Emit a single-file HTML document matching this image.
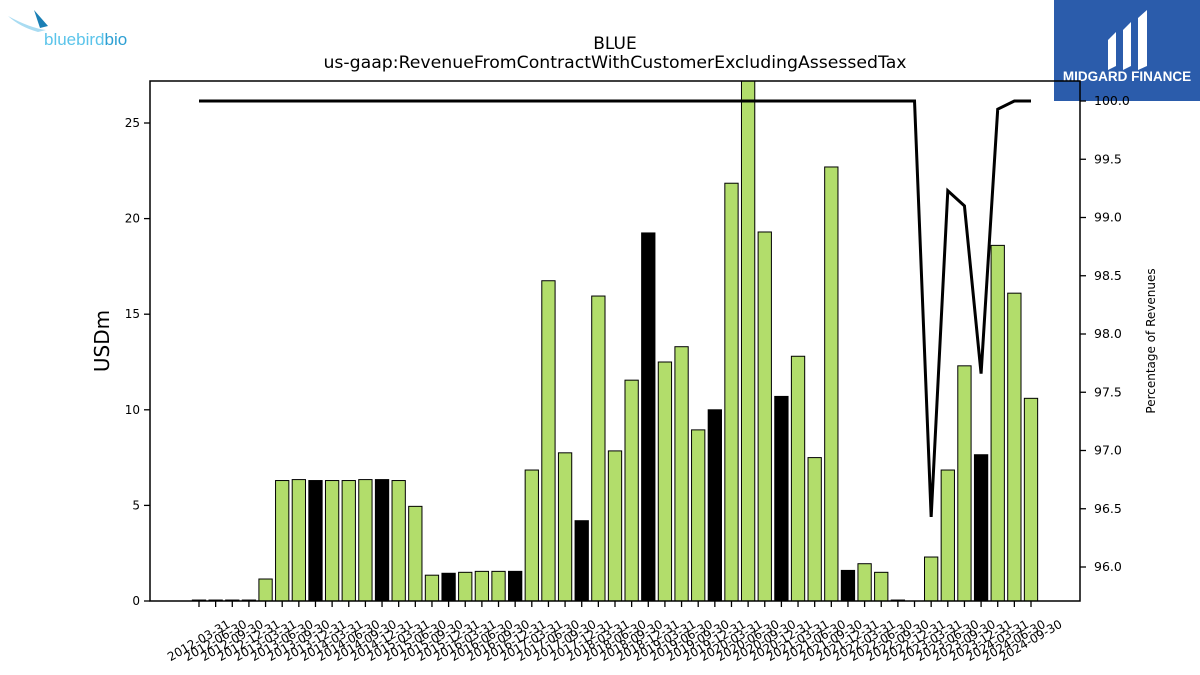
<!DOCTYPE html>
<html><head><meta charset="utf-8"><style>
body{margin:0;background:#fff;}
svg{display:block;font-family:"DejaVu Sans","Liberation Sans",sans-serif;}
</style></head><body>
<svg id="chart" width="1200" height="675" viewBox="0 0 1200 675">
  <g>
    <path d="M8,16 Q30,28 46,30 L38,32 Q20,27 8,16Z" fill="#a9dcf2"/>
    <path d="M34,10 L48,26 L40,28 Z" fill="#1a7fb5"/>
    <text x="44" y="45" font-size="17" fill="#5bc4ea" font-family="Liberation Sans, sans-serif">bluebird<tspan fill="#2c9fd3">bio</tspan></text>
  </g>
  <g>
    <rect x="1054" y="0" width="146" height="101" fill="#2b5cab"/>
    <path d="M1108,40 L1116,32 L1116,66 L1108,70Z M1123,30 L1131,22 L1131,66 L1123,70Z M1138,18 L1147,10 L1147,66 L1138,70Z" fill="#fff"/>
    <text x="1127" y="81" font-size="13.5" font-weight="bold" fill="#fff" text-anchor="middle" font-family="Liberation Sans, sans-serif">MIDGARD FINANCE</text>
  </g>
  <text x="615" y="49" font-size="17" text-anchor="middle">BLUE</text>
  <text x="615" y="68" font-size="17.3" text-anchor="middle">us-gaap:RevenueFromContractWithCustomerExcludingAssessedTax</text>
  <text transform="translate(109,341) rotate(-90)" font-size="20" text-anchor="middle">USDm</text>
  <text transform="translate(1155,341) rotate(-90)" font-size="12" text-anchor="middle">Percentage of Revenues</text>
  <g id="bars"></g>
  <g id="xticks"></g>
  <g id="yticks"></g>
  <g id="rticks"></g>
  <path id="pctline" fill="none" stroke="#000" stroke-width="3"/>
  <rect x="150" y="81" width="930" height="520" fill="none" stroke="#000" stroke-width="1.5"/>
</svg>
<script>
const categories = ["2012-03-31","2012-06-30","2012-09-30","2012-12-31","2013-03-31","2013-06-30","2013-09-30","2013-12-31","2014-03-31","2014-06-30","2014-09-30","2014-12-31","2015-03-31","2015-06-30","2015-09-30","2015-12-31","2016-03-31","2016-06-30","2016-09-30","2016-12-31","2017-03-31","2017-06-30","2017-09-30","2017-12-31","2018-03-31","2018-06-30","2018-09-30","2018-12-31","2019-03-31","2019-06-30","2019-09-30","2019-12-31","2020-03-31","2020-06-30","2020-09-30","2020-12-31","2021-03-31","2021-06-30","2021-09-30","2021-12-31","2022-03-31","2022-06-30","2022-09-30","2022-12-31","2023-03-31","2023-06-30","2023-09-30","2023-12-31","2024-03-31","2024-06-30","2024-09-30"];
const revenue = [0.05,0.05,0.05,0.05,1.15,6.3,6.35,6.3,6.3,6.3,6.35,6.35,6.3,4.95,1.35,1.45,1.5,1.55,1.55,1.55,6.85,16.75,7.75,4.2,15.95,7.85,11.55,19.25,12.5,13.3,8.95,10.0,21.85,28.5,19.3,10.7,12.8,7.5,22.7,1.6,1.95,1.5,0.05,0,2.3,6.85,12.3,7.65,18.6,16.1,10.6];
const isAnnual = [0,0,0,0,0,0,0,1,0,0,0,1,0,0,0,1,0,0,0,1,0,0,0,1,0,0,0,1,0,0,0,1,0,0,0,1,0,0,0,1,0,0,0,1,0,0,0,1,0,0,0];
const pct = [100,100,100,100,100,100,100,100,100,100,100,100,100,100,100,100,100,100,100,100,100,100,100,100,100,100,100,100,100,100,100,100,100,100,100,100,100,100,100,100,100,100,100,100,96.43,99.23,99.1,97.66,99.93,100,100];
const yTicks = [0,5,10,15,20,25];
const rTicks = [96.0,96.5,97.0,97.5,98.0,98.5,99.0,99.5,100.0];

const NS="http://www.w3.org/2000/svg";
const X0=150,X1=1080,Y0=601,Y1=81;
const x=i=>199+i*(1031-199)/(categories.length-1);
const y=v=>Y0-v*(Y0-123)/25;
const r=v=>101+(100-v)*(567-101)/4;
function mk(tag,attrs,parent){const e=document.createElementNS(NS,tag);for(const k in attrs)e.setAttribute(k,attrs[k]);parent.appendChild(e);return e;}
const bars=document.getElementById('bars'),xt=document.getElementById('xticks'),yt=document.getElementById('yticks'),rt=document.getElementById('rticks');
const bw=13.3;
categories.forEach((c,i)=>{
  const top=Math.max(y(revenue[i]),Y1);
  if(revenue[i]>0){
    const b=mk('rect',{x:x(i)-bw/2,y:top,width:bw,height:Y0-top,fill:isAnnual[i]?'#000':'#b2dd6b',stroke:'#000','stroke-width':1},bars);
    
    
  }
  const t=mk('line',{x1:x(i),x2:x(i),y1:Y0,y2:Y0+6,stroke:'#000','stroke-width':1.3},xt);
  
  
  const l=mk('text',{x:x(i),y:641,'font-size':12,'text-anchor':'middle','dominant-baseline':'middle',transform:`rotate(-30 ${x(i)} 641)`},xt);
  l.textContent=c;
  
  
});
yTicks.forEach(v=>{
  mk('line',{x1:X0-6,x2:X0,y1:y(v),y2:y(v),stroke:'#000','stroke-width':1.3},yt);
  const l=mk('text',{x:X0-10,y:y(v)+4,'font-size':12,'text-anchor':'end'},yt);
  l.textContent=v;
  
  
});
rTicks.forEach(v=>{
  mk('line',{x1:X1,x2:X1+6,y1:r(v),y2:r(v),stroke:'#000','stroke-width':1.3},rt);
  const l=mk('text',{x:X1+14,y:r(v)+4,'font-size':12.5},rt);
  l.textContent=v.toFixed(1);
  
  
});
document.getElementById('pctline').setAttribute('d',pct.map((v,i)=>(i?'L':'M')+x(i)+','+r(v)).join(' '));
</script>
</body></html>
